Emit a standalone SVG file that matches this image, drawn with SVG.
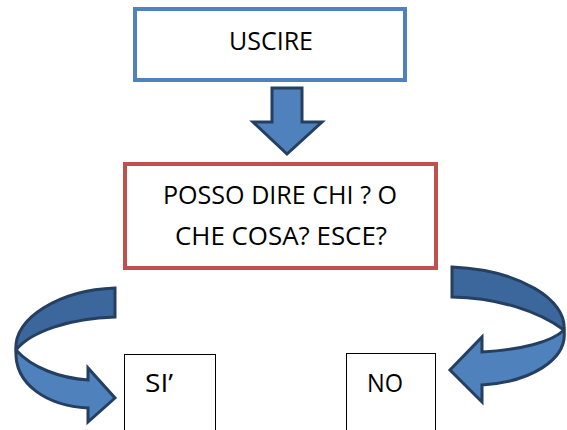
<svg xmlns="http://www.w3.org/2000/svg" width="567" height="430" viewBox="0 0 567 430">
<style>
.t{font-family:"Open Sans","Noto Sans","Liberation Sans",sans-serif;font-size:26px;fill:#000}
.arr{stroke:#243F60;stroke-width:3;stroke-linejoin:miter}
.front{fill:#4F81BD}
.back{fill:#3B679C}
.box{fill:#fff;stroke:#000;stroke-width:1}
</style>
<rect width="567" height="430" fill="#fff"/>
<g id="uscire">
<rect x="135" y="9" width="270" height="71" fill="#fff" stroke="#4F81BD" stroke-width="4"/>
<text class="t" x="271" y="50" text-anchor="middle" textLength="84" lengthAdjust="spacingAndGlyphs">USCIRE</text>
</g>
<g id="question">
<rect x="125" y="164" width="311" height="104" fill="#fff" stroke="#C0504D" stroke-width="4"/>
<text class="t" x="280" y="204" text-anchor="middle" textLength="234" lengthAdjust="spacingAndGlyphs">POSSO DIRE CHI ? O</text>
<text class="t" x="281" y="245" text-anchor="middle" textLength="212" lengthAdjust="spacingAndGlyphs">CHE COSA? ESCE?</text>
</g>
<g id="si">
<rect class="box" x="124.5" y="354.5" width="91" height="90"/>
<text class="t" x="145" y="392" textLength="28" lengthAdjust="spacingAndGlyphs">SI’</text>
</g>
<g id="no">
<rect class="box" x="346.5" y="353.5" width="89" height="90"/>
<text class="t" x="367" y="392" textLength="36" lengthAdjust="spacingAndGlyphs">NO</text>
</g>
<g id="connectors">
<path class="arr front" d="M272,88 L302,88 L302,122 L322,122 L287,154 L253,122 L272,122 Z"/>
<path class="arr back" d="M115,288 C60,290 13,318 16,350 C30,332 70,318 115,317 Z"/>
<path class="arr front" d="M16,350 C32,368 60,378 88,380 L88,368 L115,398 L88,422 L88,408 C48,406 14,385 16,350 Z"/>
<path class="arr back" d="M452,267 C520,270 567,300 564,330 C540,312 500,298 452,297 Z"/>
<path class="arr front" d="M564,330 C552,342 520,350 482,352 L482,337 L450,370 L482,402 L482,385 C530,382 568,360 564,330 Z"/>
</g>
</svg>
